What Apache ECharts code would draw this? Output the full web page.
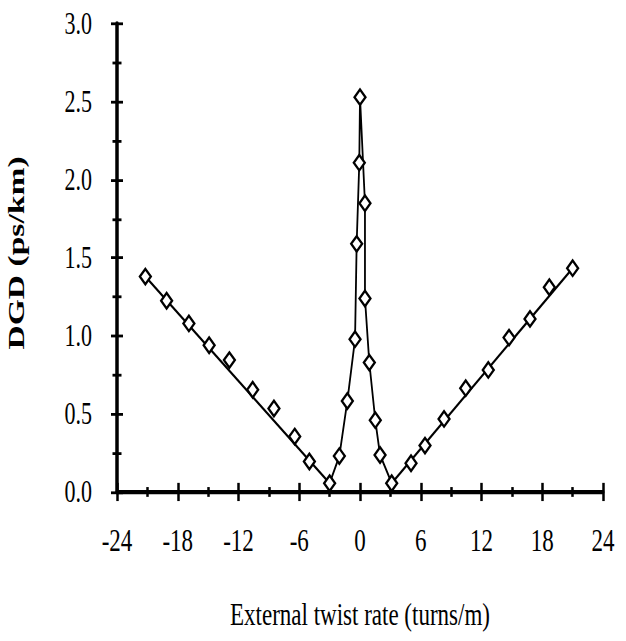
<!DOCTYPE html>
<html>
<head>
<meta charset="utf-8">
<script src="https://cdn.jsdelivr.net/npm/echarts@6/dist/echarts.min.js"></script>
<style>
  html, body { margin: 0; padding: 0; background: #fff; }
  #wrap { width: 626px; height: 641px; overflow: hidden; }
  /* the source figure is stretched vertically, so draw flat and stretch */
  #main { width: 626px; height: 458px; transform: scaleY(1.4); transform-origin: 0 0; }
</style>
</head>
<body>
<div id="wrap"><div id="main"></div></div>
<script>
// 刻度
const xTicks = [-24, -18, -12, -6, 0, 6, 12, 18, 24];
const yTicks = [0.0, 0.5, 1.0, 1.5, 2.0, 2.5, 3.0];

// 左侧分支 (线性段)
const leftX = [-21.2, -19.1, -16.9, -14.9, -12.9, -10.6, -8.5, -6.45, -5.0, -3.0];
const leftY = [1.38, 1.225, 1.08, 0.94, 0.845, 0.655, 0.535, 0.355, 0.195, 0.056];

// 中间尖峰 (按连线顺序)
const centerX = [-2.04, -1.25, -0.49, -0.33, -0.07, 0.0, 0.49, 0.49, 0.92, 1.51, 1.98];
const centerY = [0.23, 0.583, 0.979, 1.59, 2.11, 2.53, 1.85, 1.24, 0.829, 0.46, 0.237];

// 右侧分支 (线性段)
const rightX = [3.13, 5.04, 6.42, 8.3, 10.44, 12.67, 14.72, 16.79, 18.7, 21.0];
const rightY = [0.056, 0.184, 0.297, 0.468, 0.665, 0.782, 0.989, 1.109, 1.312, 1.434];

const pairs = (xs, ys) => xs.map((x, i) => [x, ys[i]]);
const ends = (xs, ys) => [[xs[0], ys[0]], [xs[xs.length - 1], ys[ys.length - 1]]];

const leftPts = pairs(leftX, leftY);
const rightPts = pairs(rightX, rightY);
const centerPath = [leftPts[leftPts.length - 1]].concat(pairs(centerX, centerY), [rightPts[0]]);
const allPts = leftPts.concat(pairs(centerX, centerY), rightPts);

const font = '"Liberation Serif", "Times New Roman", serif';

var myChart = echarts.init(document.getElementById('main'), null, { renderer: 'svg' });

// 刻度线穿过轴线: 一套朝外, 一套朝内
const xBase = {
    type: 'value',
    position: 'bottom',
    min: xTicks[0],
    max: xTicks[xTicks.length - 1],
    interval: xTicks[1] - xTicks[0],
    splitLine: { show: false },
    minorTick: { show: true, splitNumber: 2, length: 3.5, lineStyle: { color: '#000', width: 2.5 } },
    axisTick: { length: 6.5, lineStyle: { color: '#000', width: 2.5 } }
};
const yBase = {
    type: 'value',
    position: 'left',
    min: yTicks[0],
    max: yTicks[yTicks.length - 1],
    interval: yTicks[1] - yTicks[0],
    splitLine: { show: false },
    minorTick: { show: true, splitNumber: 2, length: 4.5, lineStyle: { color: '#000', width: 2 } },
    axisTick: { length: 6, lineStyle: { color: '#000', width: 2 } }
};

const option = {
    backgroundColor: '#fff',
    animation: false,
    grid: { left: 117, right: 23, top: 17, bottom: 106.6, outerBoundsMode: 'none' },
    xAxis: [
        Object.assign({}, xBase, {
            name: 'External twist rate (turns/m)',
            nameLocation: 'middle',
            nameGap: 76,
            nameTextStyle: { fontFamily: font, fontSize: 23, color: '#000' },
            axisLine: { show: true, onZero: false, lineStyle: { color: '#000', width: 3 } },
            axisLabel: { fontFamily: font, fontSize: 23, color: '#000', margin: 23 }
        }),
        Object.assign({}, xBase, {
            axisLine: { show: false, onZero: false },
            axisLabel: { show: false },
            axisTick: Object.assign({}, xBase.axisTick, { inside: true })
        })
    ],
    yAxis: [
        Object.assign({}, yBase, {
            name: 'DGD (ps/km)',
            nameLocation: 'middle',
            nameGap: 89,
            nameTextStyle: {
                fontFamily: font, fontSize: 24, fontWeight: 'bold', color: '#000',
                padding: [0, 0, 0, 7]
            },
            axisLine: { show: true, onZero: false, lineStyle: { color: '#000', width: 3.5 } },
            axisLabel: {
                fontFamily: font, fontSize: 22, color: '#000', margin: 25,
                padding: [0, 0, 9, 0],
                formatter: v => v.toFixed(1)
            }
        }),
        Object.assign({}, yBase, {
            axisLine: { show: false, onZero: false },
            axisLabel: { show: false },
            axisTick: Object.assign({}, yBase.axisTick, { inside: true })
        })
    ],
    series: [
        {
            type: 'line', data: ends(leftX, leftY), showSymbol: false,
            lineStyle: { color: '#000', width: 1.8 }, z: 2
        },
        {
            type: 'line', data: centerPath, showSymbol: false,
            lineStyle: { color: '#000', width: 1.8 }, z: 2
        },
        {
            type: 'line', data: ends(rightX, rightY), showSymbol: false,
            lineStyle: { color: '#000', width: 1.8 }, z: 2
        },
        {
            type: 'scatter', data: allPts, symbol: 'diamond', symbolSize: [11, 11],
            itemStyle: { color: '#fff', borderColor: '#000', borderWidth: 2, opacity: 1 }, z: 3
        }
    ]
};

myChart.setOption(option);
window.addEventListener('resize', myChart.resize);
</script>
</body>
</html>
